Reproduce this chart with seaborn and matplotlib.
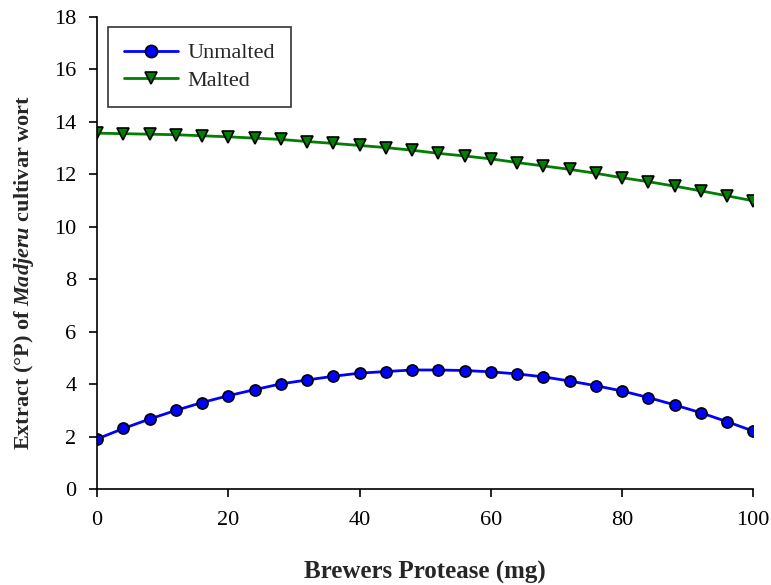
import numpy as np
import pandas as pd
import matplotlib
matplotlib.use("Agg")
import matplotlib.pyplot as plt
import seaborn as sns

# ---------------------------
# Data
# ---------------------------
protease = list(range(0, 101, 4))
unmalted = [1.91, 2.31, 2.67, 3.00, 3.30, 3.56, 3.79, 4.01, 4.16, 4.30, 4.42, 4.48, 4.54,
            4.54, 4.52, 4.47, 4.39, 4.28, 4.12, 3.94, 3.74, 3.49, 3.21, 2.91, 2.57, 2.21]
malted = [13.57, 13.55, 13.53, 13.51, 13.47, 13.43, 13.38, 13.33, 13.25, 13.18, 13.10, 13.02, 12.92,
          12.80, 12.70, 12.59, 12.45, 12.32, 12.19, 12.04, 11.87, 11.72, 11.55, 11.37, 11.18, 10.99]
series_names = ["Unmalted", "Malted"]
x_ticks = [0, 20, 40, 60, 80, 100]
y_ticks = list(range(0, 19, 2))

df = pd.DataFrame({
    "protease": protease * 2,
    "extract": unmalted + malted,
    "sample": [series_names[0]] * len(protease) + [series_names[1]] * len(protease),
})

sns.set_style("white")
plt.rcParams["font.family"] = ["Liberation Serif", "DejaVu Serif"]
# bold text in the y label, with the cultivar name in bold italic
plt.rcParams["mathtext.fontset"] = "custom"
plt.rcParams["mathtext.rm"] = "Liberation Serif:bold"
plt.rcParams["mathtext.bf"] = "Liberation Serif:bold"
plt.rcParams["mathtext.it"] = "Liberation Serif:bold:italic"
plt.rcParams["mathtext.bfit"] = "Liberation Serif:bold:italic"

fig = plt.figure(figsize=(7.71, 5.85), dpi=100)
ax = fig.add_axes([0.126, 0.164, 0.851, 0.807])

sns.lineplot(data=df, x="protease", y="extract", hue="sample", style="sample",
             palette={"Unmalted": "#0000FF", "Malted": "#008000"},
             markers={"Unmalted": "o", "Malted": "v"}, dashes=False,
             linewidth=2, markersize=8, markeredgecolor="black", markeredgewidth=1.2,
             ax=ax)

ax.set_xlim(0, 100)
ax.set_ylim(0, 18)
ax.set_xticks(x_ticks)
ax.set_yticks(y_ticks)
ax.tick_params(axis="both", labelsize=16, direction="out", length=6, width=1.2,
               left=True, bottom=True, colors="black")
ax.tick_params(axis="x", pad=10)
ax.tick_params(axis="y", pad=9)
for side in ["top", "right"]:
    ax.spines[side].set_visible(False)
for side in ["left", "bottom"]:
    ax.spines[side].set_color("black")
    ax.spines[side].set_linewidth(1.2)

ax.set_xlabel("Brewers Protease (mg)", fontsize=18, fontweight="bold", labelpad=22)
ax.set_ylabel(r"Extract (°P) of $\mathit{Madjeru}$ cultivar wort", fontsize=16,
              fontweight="bold")
ax.yaxis.set_label_coords(-0.093, 0.458)

leg = ax.legend(loc="upper left", bbox_to_anchor=(0.017, 0.979), borderaxespad=0,
                fontsize=16, frameon=True, fancybox=False, edgecolor="black",
                handlelength=2.4, handletextpad=0.45, borderpad=0.72, labelspacing=0.3,
                markerscale=1.1)
leg.get_frame().set_linewidth(1.2)
leg.set_title(None)

fig.savefig("out.png", dpi=100)
